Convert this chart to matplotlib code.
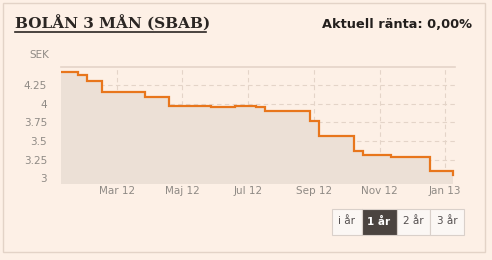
import matplotlib
matplotlib.use("Agg")
import matplotlib.pyplot as plt
import matplotlib.dates as mdates
from matplotlib.patches import Rectangle
import datetime as dt

# ---- data ----
dates = ["2012-01-09", "2012-01-25", "2012-02-02", "2012-02-16", "2012-03-27",
         "2012-04-19", "2012-05-28", "2012-06-19", "2012-07-09", "2012-07-17",
         "2012-08-28", "2012-09-05", "2012-10-08", "2012-10-16", "2012-11-11",
         "2012-12-18", "2013-01-08"]
values = [4.43, 4.38, 4.30, 4.16, 4.09,
          3.97, 3.96, 3.97, 3.96, 3.90,
          3.77, 3.57, 3.37, 3.31, 3.29,
          3.10, 3.04]
ytick_vals = [3, 3.25, 3.5, 3.75, 4, 4.25]
ytick_labels = ["3", "3.25", "3.5", "3.75", "4", "4.25"]
xtick_dates = ["2012-03-01", "2012-05-01", "2012-07-01", "2012-09-01", "2012-11-01", "2013-01-01"]
xtick_labels = ["Mar 12", "Maj 12", "Jul 12", "Sep 12", "Nov 12", "Jan 13"]
buttons = ["i år", "1 år", "2 år", "3 år"]
selected_button = "1 år"
title = "BOLÅN 3 MÅN (SBAB)"
rate_text = "Aktuell ränta: 0,00%"

BG = "#FDF0E6"
FILL = "#ECE0D6"
LINE = "#E8761C"
GRID = "#E4D4C8"
TXT = "#8f8a85"

W, H = 492, 260
fig = plt.figure(figsize=(W / 100, H / 100), dpi=100)
fig.patch.set_facecolor(BG)

def fx(px):
    return px / W

def fy(py):
    return 1 - py / H

# outer frame
fig.add_artist(Rectangle((fx(3), fy(252)), fx(485) - fx(3), fy(3) - fy(252),
                         transform=fig.transFigure, fill=False, edgecolor="#E3D3C7", lw=1))

left, right, top, bottom = 61, 454.5, 66.5, 183
ax = fig.add_axes([fx(left), fy(bottom), fx(right) - fx(left), fy(top) - fy(bottom)])
ax.set_facecolor(BG)

x = [dt.datetime.strptime(d, "%Y-%m-%d") for d in dates]
xn = mdates.date2num(x)
ax.fill_between(xn, values, 2.0, step="post", color=FILL, lw=0, zorder=2)
ax.step(xn, values, where="post", color=LINE, lw=1.6, zorder=3, solid_joinstyle="miter")

ax.set_ylim(2.938, 4.5)
ax.set_xlim(mdates.date2num(dt.datetime(2012, 1, 9)), mdates.date2num(dt.datetime(2013, 1, 9, 14)))

xt = [mdates.date2num(dt.datetime.strptime(d, "%Y-%m-%d")) for d in xtick_dates]
ax.set_xticks(xt)
ax.set_xticklabels(xtick_labels)
ax.set_yticks(ytick_vals)
ax.set_yticklabels(ytick_labels)

for v in ytick_vals[1:]:
    ax.axhline(v, color=GRID, lw=0.8, ls=(0, (4, 3)), zorder=1)
ax.axhline(4.5, color=GRID, lw=1.2, zorder=1, clip_on=False)
for v in xt:
    ax.axvline(v, color=GRID, lw=0.8, ls=(0, (4, 3)), zorder=1)

for s in ax.spines.values():
    s.set_visible(False)
ax.tick_params(axis="both", length=0, colors=TXT, labelsize=7.5)
ax.tick_params(axis="x", pad=2)
ax.tick_params(axis="y", pad=10)

fig.text(fx(29), fy(55), "SEK", fontsize=7.5, color=TXT, va="center", ha="left")

# title
fig.text(fx(15), fy(24), title, fontsize=11, fontweight="bold", family="DejaVu Serif",
         color="#2b2623", va="center", ha="left")
fig.add_artist(plt.Line2D([fx(15), fx(206)], [fy(32), fy(32)], color="#2b2623", lw=1.2,
                          transform=fig.transFigure))
fig.text(fx(472), fy(25), rate_text, fontsize=9.3, fontweight="bold", family="DejaVu Sans",
         color="#231f1d", va="center", ha="right")

# buttons
edges = [331.5, 361.5, 396.5, 430, 464]
by0, by1 = 208.5, 234.5
for i, b in enumerate(buttons):
    sel = b == selected_button
    fig.add_artist(Rectangle((fx(edges[i]), fy(by1)), fx(edges[i + 1]) - fx(edges[i]), fy(by0) - fy(by1),
                             transform=fig.transFigure,
                             facecolor="#4b4440" if sel else "#FBF7F4",
                             edgecolor="#D9D0CA", lw=0.8))
    fig.text(fx((edges[i] + edges[i + 1]) / 2), fy((by0 + by1) / 2), b,
             fontsize=7.5, fontweight="bold" if sel else "normal",
             color="white" if sel else "#555050", ha="center", va="center")

fig.savefig("out.png", dpi=100, facecolor=BG)
